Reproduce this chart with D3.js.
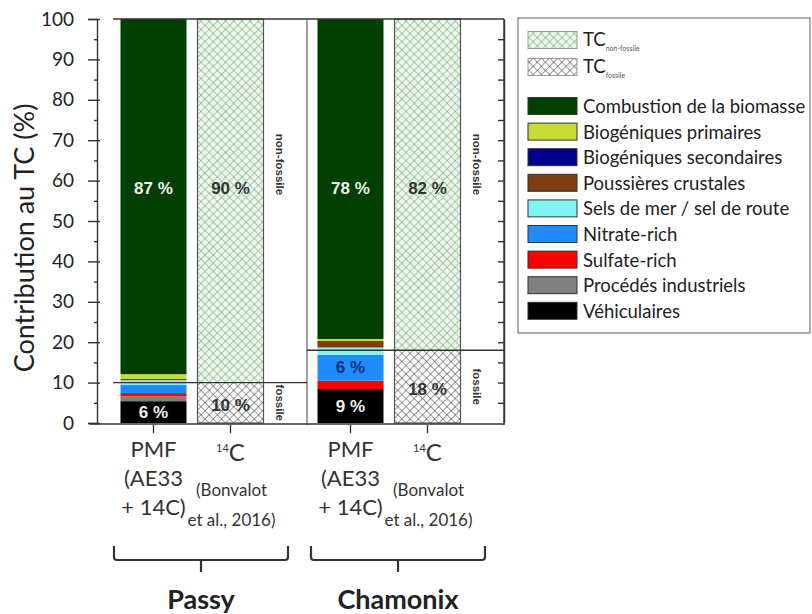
<!DOCTYPE html>
<html><head><meta charset="utf-8">
<script src="https://cdn.jsdelivr.net/npm/d3@7"></script>
<style>
body{margin:0;background:#fff;}
svg{display:block;font-family:Lato,"Open Sans",sans-serif;}
</style></head>
<body><svg id="chart" width="812" height="614"></svg>
<script>
// ---------- data ----------
const sites = ["Passy", "Chamonix"];
const methods = ["PMF", "14C"];
const pmfSources = ["Véhiculaires", "Procédés industriels", "Sulfate-rich", "Nitrate-rich",
  "Sels de mer / sel de route", "Poussières crustales", "Biogéniques secondaires",
  "Biogéniques primaires", "Combustion de la biomasse"];
const pmfColors = ["#000000", "#808080", "#ff0000", "#1e8cff", "#80f4f4", "#7a3e12",
  "#00008c", "#c6dc34", "#003f00"];
const pmfPassy    = [5.4, 1.2, 0.8, 2.0, 1.2, 0.3, 0.0, 1.2, 87.9];
const pmfChamonix = [8.4, 0.0, 2.1, 6.4, 1.8, 1.6, 0.0, 0.5, 79.2];
const c14Parts = ["fossile", "non-fossile"];
const c14Passy    = [10, 90];
const c14Chamonix = [18, 82];
const pmfLabelsPassy    = ["6 %", "87 %"];
const pmfLabelsChamonix = ["9 %", "6 %", "78 %"];
const c14LabelsPassy    = ["10 %", "90 %"];
const c14LabelsChamonix = ["18 %", "82 %"];
const yTicks = [0, 10, 20, 30, 40, 50, 60, 70, 80, 90, 100];
const yMinorTicks = [5, 15, 25, 35, 45, 55, 65, 75, 85, 95];
const rightTicks = [5, 10, 15, 20, 25, 30, 35, 40, 45, 50, 55, 60, 65, 70, 75, 80, 85, 90, 95];

// ---------- setup ----------
const svg = d3.select("#chart");
const y = d3.scaleLinear().domain([0, 100]).range([423, 19]);
const xSite = d3.scaleBand().domain(sites).range([110, 504]).paddingInner(0);
const xMeth = d3.scaleBand().domain(methods).range([10.5, 153.5]).paddingInner(0.143).paddingOuter(0);
const bw = xMeth.bandwidth();

const defs = svg.append("defs");
function hatch(id, bg, stroke, size, sw) {
  const p = defs.append("pattern").attr("id", id).attr("patternUnits", "userSpaceOnUse")
    .attr("width", size).attr("height", size).attr("patternTransform", "rotate(45)");
  p.append("rect").attr("width", size).attr("height", size).attr("fill", bg);
  p.append("path").attr("d", `M0,0H${size}M0,0V${size}`).attr("stroke", stroke)
    .attr("stroke-width", sw).attr("fill", "none");
}
hatch("hNon", "#edf7ed", "#5e9e5e", 5.8, 1);
hatch("hFos", "#ffffff", "#333333", 5.8, 1);

// ---------- PMF stacks ----------
const pmfTable = [
  Object.assign({site: "Passy"}, Object.fromEntries(pmfSources.map((s, i) => [s, pmfPassy[i]]))),
  Object.assign({site: "Chamonix"}, Object.fromEntries(pmfSources.map((s, i) => [s, pmfChamonix[i]])))
];
const stack = d3.stack().keys(pmfSources)(pmfTable);
const colorOf = d3.scaleOrdinal().domain(pmfSources).range(pmfColors);
svg.append("g").selectAll("g").data(stack).join("g").attr("fill", d => colorOf(d.key))
  .selectAll("rect").data(d => d).join("rect")
  .attr("x", d => xSite(d.data.site) + xMeth("PMF"))
  .attr("width", bw)
  .attr("y", d => y(d[1]))
  .attr("height", d => Math.max(0, y(d[0]) - y(d[1])));

// ---------- 14C stacks ----------
const c14Table = [
  {site: "Passy", "fossile": c14Passy[0], "non-fossile": c14Passy[1]},
  {site: "Chamonix", "fossile": c14Chamonix[0], "non-fossile": c14Chamonix[1]}
];
const cstack = d3.stack().keys(c14Parts)(c14Table);
svg.append("g").selectAll("g").data(cstack).join("g")
  .attr("fill", d => d.key === "fossile" ? "url(#hFos)" : "url(#hNon)")
  .selectAll("rect").data(d => d).join("rect")
  .attr("x", d => xSite(d.data.site) + xMeth("14C"))
  .attr("width", bw)
  .attr("y", d => y(d[1]))
  .attr("height", d => y(d[0]) - y(d[1]));
svg.append("g").selectAll("rect").data(c14Table).join("rect")
  .attr("x", d => xSite(d.site) + xMeth("14C")).attr("width", bw)
  .attr("y", y(100)).attr("height", y(0) - y(100))
  .attr("fill", "none").attr("stroke", "#555").attr("stroke-width", 1.2);

// ---------- frames ----------
const frame = svg.append("g").attr("stroke", "#333").attr("stroke-width", 1.4).attr("fill", "none");
sites.forEach((s, i) => {
  const x0 = xSite(s), x1 = xSite(s) + xSite.bandwidth();
  frame.append("line").attr("x1", i === 0 ? x0 + 3 : x0).attr("x2", x1).attr("y1", y(100)).attr("y2", y(100));
  frame.append("line").attr("x1", x1).attr("x2", x1).attr("y1", y(100)).attr("y2", y(0) + 2)
    .attr("stroke", i === 0 ? "#777" : "#333");
  const fos = (i === 0 ? c14Passy : c14Chamonix)[0];
  frame.append("line").attr("x1", i === 0 ? x0 + 3 : x0).attr("x2", x1).attr("y1", y(fos)).attr("y2", y(fos));
});
frame.append("line").attr("x1", 90).attr("x2", xSite.range()[1]).attr("y1", y(0) + 1).attr("y2", y(0) + 1);

// ---------- axes ----------
const leftX = 97;
const axL = svg.append("g").attr("transform", `translate(${leftX},0)`)
  .call(d3.axisLeft(y).tickValues(yTicks).tickSize(9).tickPadding(14).tickFormat(d3.format("d")));
axL.selectAll("text").attr("font-size", 19).attr("fill", "#222").attr("font-family", "Lato");
axL.select(".domain").attr("stroke", "#333").attr("stroke-width", 1.4);
axL.selectAll(".tick line").attr("stroke", "#333").attr("stroke-width", 1.4);
const axLi = svg.append("g").attr("transform", `translate(${leftX},0)`)
  .call(d3.axisRight(y).tickValues(yTicks).tickSize(3).tickFormat(""));
axLi.select(".domain").remove();
axLi.selectAll(".tick line").attr("stroke", "#333").attr("stroke-width", 1.4);
const axLm = svg.append("g").attr("transform", `translate(${leftX},0)`)
  .call(d3.axisLeft(y).tickValues(yMinorTicks).tickSize(3).tickFormat(""));
axLm.select(".domain").remove();
axLm.selectAll(".tick line").attr("stroke", "#333").attr("stroke-width", 1.4);

const axR = svg.append("g").attr("transform", `translate(${xSite.range()[1]},0)`)
  .call(d3.axisLeft(y).tickValues(rightTicks).tickSize(6).tickSizeOuter(0).tickFormat(""));
axR.select(".domain").attr("stroke", "#333").attr("stroke-width", 1.4);
axR.selectAll(".tick line").attr("stroke", "#333").attr("stroke-width", 1.4);

const xt = svg.append("g").attr("stroke", "#333").attr("stroke-width", 1.4);
sites.forEach(s => methods.forEach(m => {
  const cx = xSite(s) + xMeth(m) + bw / 2;
  xt.append("line").attr("x1", cx).attr("x2", cx).attr("y1", y(0) + 2).attr("y2", y(0) + 10);
}));

svg.append("text").attr("transform", "translate(34,238) rotate(-90)")
  .attr("text-anchor", "middle").attr("font-size", 27).attr("fill", "#222").attr("font-family", "Lato")
  .text("Contribution au TC (%)");

// ---------- in-bar labels ----------
const lbl = svg.append("g").attr("font-family", "Liberation Sans, Arial, sans-serif")
  .attr("font-weight", "bold").attr("font-size", 17).attr("text-anchor", "middle")
  .attr("dominant-baseline", "central");
const bigLevel = 58;
function pmfLabel(site, vals, txt, idxFrom, idxTo, color, level) {
  const lo = d3.sum(vals.slice(0, idxFrom)), hi = d3.sum(vals.slice(0, idxTo + 1));
  lbl.append("text").attr("x", xSite(site) + xMeth("PMF") + bw / 2)
    .attr("y", y(level !== undefined ? level : (lo + hi) / 2)).attr("fill", color).text(txt);
}
pmfLabel("Passy", pmfPassy, pmfLabelsPassy[0], 0, 0, "#f2f2f2");
pmfLabel("Passy", pmfPassy, pmfLabelsPassy[1], 8, 8, "#f2f2f2", bigLevel);
pmfLabel("Chamonix", pmfChamonix, pmfLabelsChamonix[0], 0, 0, "#f2f2f2");
pmfLabel("Chamonix", pmfChamonix, pmfLabelsChamonix[1], 3, 3, "#1c2c70");
pmfLabel("Chamonix", pmfChamonix, pmfLabelsChamonix[2], 8, 8, "#f2f2f2", bigLevel);
[["Passy", c14Passy, c14LabelsPassy], ["Chamonix", c14Chamonix, c14LabelsChamonix]].forEach(([s, v, t]) => {
  const cx = xSite(s) + xMeth("14C") + bw / 2;
  lbl.append("text").attr("x", cx).attr("y", y(v[0] / 2) + 3).attr("fill", "#333").text(t[0]);
  lbl.append("text").attr("x", cx).attr("y", y(bigLevel)).attr("fill", "#333").text(t[1]);
  const sx = xSite(s) + 170;
  svg.append("text").attr("transform", `translate(${sx},${y(v[0] / 2)}) rotate(90)`)
    .attr("text-anchor", "middle").attr("dominant-baseline", "central")
    .attr("font-family", "Liberation Sans, Arial").attr("font-size", 11.5).attr("font-weight", "bold")
    .attr("fill", "#333").text(c14Parts[0]);
  svg.append("text").attr("transform", `translate(${sx},${y(64)}) rotate(90)`)
    .attr("text-anchor", "middle").attr("dominant-baseline", "central")
    .attr("font-family", "Liberation Sans, Arial").attr("font-size", 11.5).attr("font-weight", "bold")
    .attr("fill", "#333").text(c14Parts[1]);
});

// ---------- x labels ----------
const xl = svg.append("g").attr("font-family", "Lato").attr("fill", "#333").attr("text-anchor", "middle");
sites.forEach(s => {
  const cp = xSite(s) + xMeth("PMF") + bw / 2;
  xl.append("text").attr("x", cp).attr("y", 457).attr("font-size", 22).text("PMF");
  xl.append("text").attr("x", cp).attr("y", 486).attr("font-size", 22).text("(AE33");
  xl.append("text").attr("x", cp).attr("y", 515).attr("font-size", 22).text("+ 14C)");
  const cc = xSite(s) + xMeth("14C") + bw / 2;
  const t = xl.append("text").attr("x", cc).attr("y", 461);
  t.append("tspan").attr("font-size", 11).attr("dy", -9).text("14");
  t.append("tspan").attr("font-size", 24).attr("dy", 9).text("C");
  xl.append("text").attr("x", cc + 1).attr("y", 496).attr("font-size", 17).text("(Bonvalot");
  xl.append("text").attr("x", cc + 1).attr("y", 526).attr("font-size", 17).text("et al., 2016)");
  const b0 = xSite(s) + 4, b1 = xSite(s) + xSite.bandwidth() - 19, bm = (b0 + b1) / 2;
  svg.append("path").attr("d", `M${b0},546V557Q${b0},560 ${b0 + 3},560H${b1 - 3}Q${b1},560 ${b1},557V546M${bm},560V572`)
    .attr("fill", "none").attr("stroke", "#333").attr("stroke-width", 2.2);
  svg.append("text").attr("x", bm).attr("y", 609).attr("text-anchor", "middle")
    .attr("font-family", "Lato").attr("font-weight", "bold").attr("font-size", 27).attr("fill", "#222").text(s);
});

// ---------- legend ----------
const lg = svg.append("g");
lg.append("rect").attr("x", 518).attr("y", 18).attr("width", 292).attr("height", 315)
  .attr("fill", "#fff").attr("stroke", "#777").attr("stroke-width", 1.2);
const legendItems = [
  {fill: "url(#hNon)", sub: "non-fossile"},
  {fill: "url(#hFos)", sub: "fossile"}
].concat(pmfSources.slice().reverse().map(s => ({fill: colorOf(s), name: s})));
legendItems.forEach((d, i) => {
  const cy = i < 2 ? 40 + i * 27 : 106 + (i - 2) * 25.6;
  lg.append("rect").attr("x", 528).attr("y", cy - 8.5).attr("width", 49).attr("height", 17)
    .attr("fill", d.fill).attr("stroke", i < 2 ? "#999" : "#333").attr("stroke-width", 1);
  if (d.name) {
    lg.append("text").attr("x", 583).attr("y", cy).attr("dominant-baseline", "central")
      .attr("font-family", "Lato").attr("font-size", 18.5).attr("fill", "#222").text(d.name);
  } else {
    const t = lg.append("text").attr("x", 583).attr("y", cy + 6).attr("font-family", "Lato").attr("fill", "#222");
    t.append("tspan").attr("font-size", 18.5).text("TC");
    t.append("tspan").attr("font-size", 7).attr("dy", 5).attr("fill", "#555").text(d.sub);
  }
});
</script></body></html>
